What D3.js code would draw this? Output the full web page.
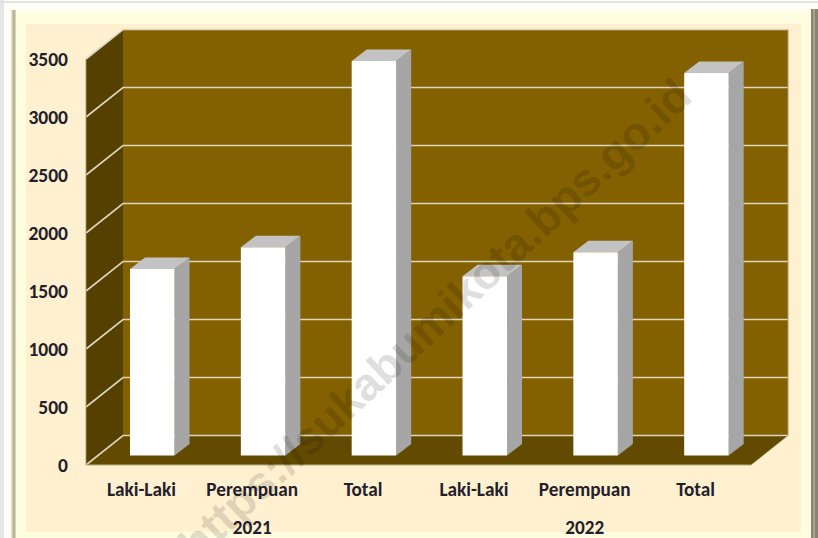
<!DOCTYPE html>
<html><head><meta charset="utf-8">
<script src="https://cdn.jsdelivr.net/npm/d3@7/dist/d3.min.js"></script>
<style>html,body{margin:0;padding:0;background:#fff}svg{display:block}</style></head>
<body><svg id="c" width="818" height="538"></svg>
<script>
const categories = ["Laki-Laki","Perempuan","Total","Laki-Laki","Perempuan","Total"];
const years = ["2021","2022"];
const values = [1608,1795,3401,1545,1752,3297];
const ticks = [0,500,1000,1500,2000,2500,3000,3500];

const svg = d3.select("#c");
const font = "Carlito, Lato, 'Noto Sans', sans-serif";
const txt = "#23202b";
// frame
const defs = svg.append("defs");
const lg = defs.append("linearGradient").attr("id","bev");
lg.append("stop").attr("offset","0").attr("stop-color","#eeeeda");
lg.append("stop").attr("offset","0.6").attr("stop-color","#aaa78c");
lg.append("stop").attr("offset","1").attr("stop-color","#e6e3c0");
const g0 = svg.append("g");
g0.append("rect").attr("x",0).attr("y",0).attr("width",818).attr("height",538).attr("fill","#fffef6");
g0.append("rect").attr("x",0).attr("y",0).attr("width",4).attr("height",538).attr("fill","#e6e6e6");
g0.append("rect").attr("x",0).attr("y",1).attr("width",818).attr("height",2).attr("fill","#e2e2e2");
g0.append("rect").attr("x",11).attr("y",10).attr("width",5).attr("height",528).attr("fill","url(#bev)");
g0.append("rect").attr("x",16).attr("y",11).attr("width",795).attr("height",527).attr("fill","#fffde0");
g0.append("rect").attr("x",811).attr("y",9).attr("width",7).attr("height",529).attr("fill","#8a8470");
g0.append("rect").attr("x",813).attr("y",9).attr("width",2).attr("height",529).attr("fill","#a8a38e");
g0.append("rect").attr("x",26).attr("y",24).attr("width",775).attr("height",508).attr("fill","#fff1d0");

const x = d3.scaleBand().domain(d3.range(6)).range([86,751]);
const y = d3.scaleLinear().domain([0,3500]).range([465,59]);
const dx=37, dy=-29.5, bdx=15, bdy=-11.5, barBase=-9.5;
const x0=86, x1=751;
// walls
const p = a=>a.map(d=>d.join(",")).join(" ");
svg.append("polygon").attr("points",p([[x0+dx,y(3500)+dy],[x1+dx,y(3500)+dy],[x1+dx,y(0)+dy],[x0+dx,y(0)+dy]])).attr("fill","#836000");
svg.append("polygon").attr("points",p([[x0,y(3500)],[x0+dx,y(3500)+dy],[x0+dx,y(0)+dy],[x0,y(0)]])).attr("fill","#554000");
svg.append("polygon").attr("points",p([[x0,y(0)],[x0+dx,y(0)+dy],[x1+dx,y(0)+dy],[x1,y(0)]])).attr("fill","#624a00");
// grid
const gl="#dcd5c0";
ticks.forEach(t=>{
  svg.append("polyline").attr("points",p([[x0,y(t)],[x0+dx,y(t)+dy],[x1+dx,y(t)+dy]])).attr("fill","none").attr("stroke",gl).attr("stroke-width",1.6);
});
svg.append("line").attr("x1",x0).attr("x2",x1).attr("y1",y(0)).attr("y2",y(0)).attr("stroke","#b8ad86").attr("stroke-width",1.2);
svg.append("line").attr("x1",x1).attr("x2",x1+dx).attr("y1",y(0)).attr("y2",y(0)+dy).attr("stroke","#a89a6a").attr("stroke-width",0.6);
svg.append("line").attr("x1",x0).attr("x2",x0).attr("y1",y(0)).attr("y2",y(3500)).attr("stroke","#a89a6a").attr("stroke-width",0.8);
svg.append("line").attr("x1",x1+dx).attr("x2",x1+dx).attr("y1",y(0)+dy).attr("y2",y(3500)+dy).attr("stroke","#a89a6a").attr("stroke-width",1);
// bars
const bw=44.5;
values.forEach((v,i)=>{
  const l=x(i)+x.bandwidth()/2-11.4;
  const base=y(0)+barBase, top=y(0)+barBase-(y(0)-y(v));
  svg.append("polygon").attr("points",p([[l+bw,base],[l+bw+bdx,base+bdy],[l+bw+bdx,top+bdy],[l+bw,top]])).attr("fill","#a6a6a6");
  svg.append("polygon").attr("points",p([[l,top],[l+bdx,top+bdy],[l+bw+bdx,top+bdy],[l+bw,top]])).attr("fill","#c3c3c3");
  svg.append("rect").attr("x",l).attr("y",top).attr("width",bw).attr("height",base-top).attr("fill","#fff");
});
// y labels
ticks.forEach(t=>{
  svg.append("text").attr("x",68).attr("y",y(t)+6.5).attr("text-anchor","end").attr("font-family",font).attr("font-weight",700).attr("font-size",19.5).attr("fill",txt).text(t);
});
// x labels
categories.forEach((c,i)=>{
  svg.append("text").attr("x",x(i)+x.bandwidth()/2).attr("y",496).attr("text-anchor","middle").attr("font-family",font).attr("font-weight",700).attr("font-size",19.2).attr("fill",txt).text(c);
});
years.forEach((c,i)=>{
  svg.append("text").attr("x",x(i*3+1)+x.bandwidth()/2).attr("y",534).attr("text-anchor","middle").attr("font-family",font).attr("font-weight",700).attr("font-size",19.2).attr("fill",txt).text(c);
});
// watermark
svg.append("text").attr("transform","translate(197,563) rotate(-43)").attr("font-family","'Liberation Sans',Arial,sans-serif").attr("font-weight",700).attr("font-size",46).attr("fill","#000").attr("fill-opacity",0.14).text("https://sukabumikota.bps.go.id");
</script></body></html>
